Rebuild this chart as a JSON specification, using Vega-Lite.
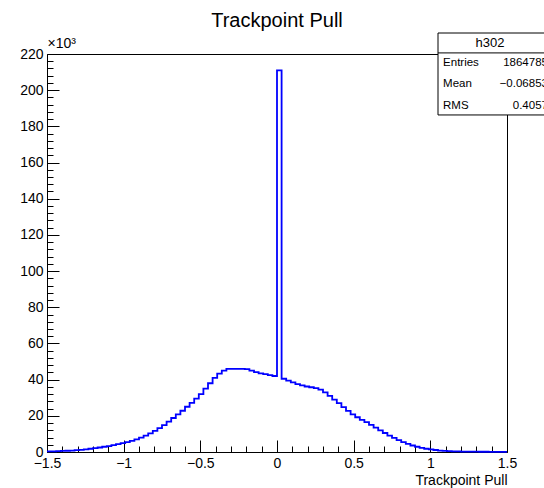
{
  "$schema": "https://vega.github.io/schema/vega-lite/v6.json",
  "width": 460,
  "height": 398,
  "autosize": {"type": "none"},
  "padding": {"left": 47, "top": 54, "right": 37, "bottom": 36},
  "background": "white",
  "config": {
    "font": "Liberation Sans",
    "view": {"stroke": "black", "strokeWidth": 1},
    "axis": {"domainColor": "black", "tickColor": "black", "labelColor": "black", "titleColor": "black", "labelFont": "Liberation Sans", "titleFont": "Liberation Sans", "grid": false, "labelFontSize": 14, "titleFontWeight": "normal", "domainWidth": 1, "tickWidth": 1}
  },
  "title": {"text": "Trackpoint Pull", "fontSize": 20, "fontWeight": "normal", "font": "Liberation Sans", "anchor": "middle", "offset": 2, "color": "black"},
  "data": {"values": [
    {"lo": -1.50, "v": 0.35}, {"lo": -1.47, "v": 0.4}, {"lo": -1.44, "v": 0.5}, {"lo": -1.41, "v": 0.6}, {"lo": -1.38, "v": 0.7},
    {"lo": -1.35, "v": 0.8}, {"lo": -1.32, "v": 1.0}, {"lo": -1.29, "v": 1.2}, {"lo": -1.26, "v": 1.5}, {"lo": -1.23, "v": 1.8},
    {"lo": -1.20, "v": 2.1}, {"lo": -1.17, "v": 2.5}, {"lo": -1.14, "v": 2.9}, {"lo": -1.11, "v": 3.3}, {"lo": -1.08, "v": 3.8},
    {"lo": -1.05, "v": 4.3}, {"lo": -1.02, "v": 4.9}, {"lo": -0.99, "v": 5.5}, {"lo": -0.96, "v": 6.2}, {"lo": -0.93, "v": 7.0},
    {"lo": -0.90, "v": 8.0}, {"lo": -0.87, "v": 9.1}, {"lo": -0.84, "v": 10.3}, {"lo": -0.81, "v": 11.7}, {"lo": -0.78, "v": 13.2},
    {"lo": -0.75, "v": 14.9}, {"lo": -0.72, "v": 16.8}, {"lo": -0.69, "v": 18.8}, {"lo": -0.66, "v": 20.8}, {"lo": -0.63, "v": 22.8},
    {"lo": -0.60, "v": 25.0}, {"lo": -0.57, "v": 27.2}, {"lo": -0.54, "v": 29.5}, {"lo": -0.51, "v": 32.0}, {"lo": -0.48, "v": 35.0},
    {"lo": -0.45, "v": 38.0}, {"lo": -0.42, "v": 41.0}, {"lo": -0.39, "v": 43.3}, {"lo": -0.36, "v": 45.0}, {"lo": -0.33, "v": 46.0},
    {"lo": -0.30, "v": 46.0}, {"lo": -0.27, "v": 46.0}, {"lo": -0.24, "v": 46.0}, {"lo": -0.21, "v": 45.8}, {"lo": -0.18, "v": 45.0},
    {"lo": -0.15, "v": 44.2}, {"lo": -0.12, "v": 43.5}, {"lo": -0.09, "v": 43.0}, {"lo": -0.06, "v": 42.5}, {"lo": -0.03, "v": 42.0},
    {"lo": 0.00, "v": 211.0}, {"lo": 0.03, "v": 40.5}, {"lo": 0.06, "v": 39.5}, {"lo": 0.09, "v": 38.5}, {"lo": 0.12, "v": 37.5},
    {"lo": 0.15, "v": 36.8}, {"lo": 0.18, "v": 36.2}, {"lo": 0.21, "v": 35.8}, {"lo": 0.24, "v": 35.3}, {"lo": 0.27, "v": 34.5},
    {"lo": 0.30, "v": 33.0}, {"lo": 0.33, "v": 31.0}, {"lo": 0.36, "v": 29.0}, {"lo": 0.39, "v": 27.0}, {"lo": 0.42, "v": 24.8},
    {"lo": 0.45, "v": 22.7}, {"lo": 0.48, "v": 20.8}, {"lo": 0.51, "v": 19.2}, {"lo": 0.54, "v": 17.8}, {"lo": 0.57, "v": 16.5},
    {"lo": 0.60, "v": 15.0}, {"lo": 0.63, "v": 13.5}, {"lo": 0.66, "v": 12.0}, {"lo": 0.69, "v": 10.5}, {"lo": 0.72, "v": 9.0},
    {"lo": 0.75, "v": 7.8}, {"lo": 0.78, "v": 6.6}, {"lo": 0.81, "v": 5.5}, {"lo": 0.84, "v": 4.5}, {"lo": 0.87, "v": 3.6},
    {"lo": 0.90, "v": 2.9}, {"lo": 0.93, "v": 2.3}, {"lo": 0.96, "v": 1.8}, {"lo": 0.99, "v": 1.4}, {"lo": 1.02, "v": 1.1},
    {"lo": 1.05, "v": 0.8}, {"lo": 1.08, "v": 0.6}, {"lo": 1.11, "v": 0.45}, {"lo": 1.14, "v": 0.35}, {"lo": 1.17, "v": 0.3},
    {"lo": 1.20, "v": 0.25}, {"lo": 1.23, "v": 0.22}, {"lo": 1.26, "v": 0.2}, {"lo": 1.29, "v": 0.18}, {"lo": 1.32, "v": 0.15},
    {"lo": 1.35, "v": 0.13}, {"lo": 1.38, "v": 0.12}, {"lo": 1.41, "v": 0.1}, {"lo": 1.44, "v": 0.1}, {"lo": 1.47, "v": 0.1},
    {"lo": 1.50, "v": 0.1}
  ]},
  "resolve": {"axis": {"x": "independent", "y": "independent"}},
  "layer": [
    {
      "mark": {"type": "line", "interpolate": "step-after", "color": "#0000ff", "strokeWidth": 1.8},
      "encoding": {
        "x": {"field": "lo", "type": "quantitative", "scale": {"domain": [-1.5, 1.5], "nice": false, "zero": false},
          "axis": {"orient": "bottom", "values": [-1.5, -1, -0.5, 0, 0.5, 1, 1.5], "format": ".2~f", "tickSize": -12, "labelPadding": 16, "labelFlush": false, "labelOverlap": false,
            "title": "Trackpoint Pull", "titleFontSize": 14, "titleAnchor": "end", "titleAlign": "right", "titleBaseline": "alphabetic", "titleX": 460, "titleY": 32}},
        "y": {"field": "v", "type": "quantitative", "scale": {"domain": [0, 220], "nice": false, "zero": true},
          "axis": {"orient": "left", "values": [0, 20, 40, 60, 80, 100, 120, 140, 160, 180, 200, 220], "format": "d", "tickSize": -12, "labelPadding": 16, "labelFlush": false, "labelOverlap": false,
            "title": "×10³", "titleFontSize": 14, "titleAngle": 0, "titleAlign": "left", "titleBaseline": "middle", "titleX": 0, "titleY": -11}}
      }
    },
    {
      "mark": {"type": "line", "interpolate": "step-after", "strokeOpacity": 0},
      "encoding": {
        "x": {"field": "lo", "type": "quantitative",
          "axis": {"orient": "bottom", "values": [-1.4, -1.3, -1.2, -1.1, -0.9, -0.8, -0.7, -0.6, -0.4, -0.3, -0.2, -0.1, 0.1, 0.2, 0.3, 0.4, 0.6, 0.7, 0.8, 0.9, 1.1, 1.2, 1.3, 1.4], "labels": false, "domain": false, "tickSize": -6, "title": null}},
        "y": {"field": "v", "type": "quantitative",
          "axis": {"orient": "left", "values": [4, 8, 12, 16, 24, 28, 32, 36, 44, 48, 52, 56, 64, 68, 72, 76, 84, 88, 92, 96, 104, 108, 112, 116, 124, 128, 132, 136, 144, 148, 152, 156, 164, 168, 172, 176, 184, 188, 192, 196, 204, 208, 212, 216], "labels": false, "domain": false, "tickSize": -6, "title": null}}
      }
    },
    {
      "data": {"values": [{}]},
      "layer": [
        {
          "mark": {"type": "rect", "fill": "white", "stroke": "black", "strokeWidth": 1, "clip": false},
          "encoding": {
            "x": {"datum": 1.05, "type": "quantitative", "axis": null}, "x2": {"datum": 1.8},
            "y": {"datum": 231.6, "type": "quantitative", "axis": null}, "y2": {"datum": 186.3}
          }
        },
        {
          "mark": {"type": "rule", "stroke": "black", "strokeWidth": 1, "clip": false},
          "encoding": {
            "x": {"datum": 1.05, "type": "quantitative", "axis": null}, "x2": {"datum": 1.8},
            "y": {"datum": 220.6, "type": "quantitative", "axis": null}
          }
        },
        {
          "mark": {"type": "text", "font": "Liberation Sans", "fontSize": 13, "align": "center", "baseline": "middle", "color": "black", "clip": false},
          "encoding": {"x": {"datum": 1.389, "type": "quantitative", "axis": null}, "y": {"datum": 225.9, "type": "quantitative", "axis": null}, "text": {"value": "h302"}}
        },
        {
          "mark": {"type": "text", "font": "Liberation Sans", "fontSize": 11.5, "align": "left", "baseline": "middle", "color": "black", "clip": false},
          "encoding": {"x": {"datum": 1.083, "type": "quantitative", "axis": null}, "y": {"datum": 215.0, "type": "quantitative", "axis": null}, "text": {"value": "Entries"}}
        },
        {
          "mark": {"type": "text", "font": "Liberation Sans", "fontSize": 11.5, "align": "left", "baseline": "middle", "color": "black", "clip": false},
          "encoding": {"x": {"datum": 1.083, "type": "quantitative", "axis": null}, "y": {"datum": 203.4, "type": "quantitative", "axis": null}, "text": {"value": "Mean"}}
        },
        {
          "mark": {"type": "text", "font": "Liberation Sans", "fontSize": 11.5, "align": "left", "baseline": "middle", "color": "black", "clip": false},
          "encoding": {"x": {"datum": 1.083, "type": "quantitative", "axis": null}, "y": {"datum": 191.3, "type": "quantitative", "axis": null}, "text": {"value": "RMS"}}
        },
        {
          "mark": {"type": "text", "font": "Liberation Sans", "fontSize": 11.5, "align": "right", "baseline": "middle", "color": "black", "clip": false},
          "encoding": {"x": {"datum": 1.767, "type": "quantitative", "axis": null}, "y": {"datum": 215.0, "type": "quantitative", "axis": null}, "text": {"value": "1864785"}}
        },
        {
          "mark": {"type": "text", "font": "Liberation Sans", "fontSize": 11.5, "align": "right", "baseline": "middle", "color": "black", "clip": false},
          "encoding": {"x": {"datum": 1.767, "type": "quantitative", "axis": null}, "y": {"datum": 203.4, "type": "quantitative", "axis": null}, "text": {"value": "−0.06853"}}
        },
        {
          "mark": {"type": "text", "font": "Liberation Sans", "fontSize": 11.5, "align": "right", "baseline": "middle", "color": "black", "clip": false},
          "encoding": {"x": {"datum": 1.767, "type": "quantitative", "axis": null}, "y": {"datum": 191.3, "type": "quantitative", "axis": null}, "text": {"value": "0.4057"}}
        }
      ]
    }
  ]
}
